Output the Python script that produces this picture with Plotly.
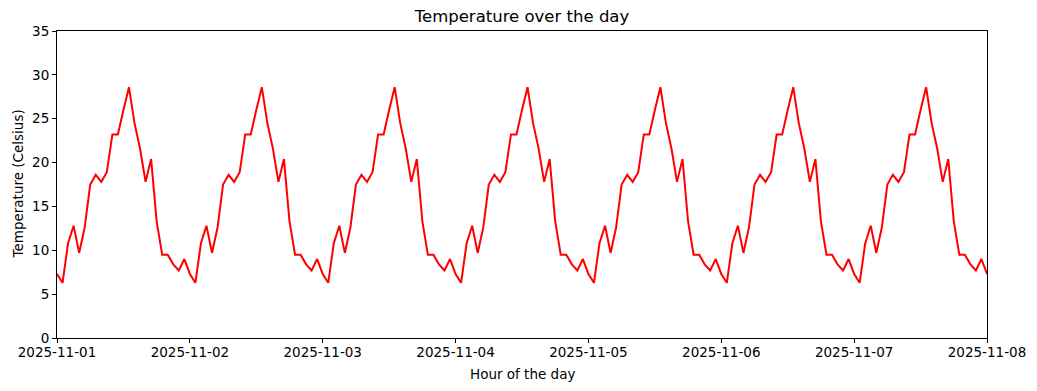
import plotly.graph_objects as go
import pandas as pd

# Hourly temperature profile (same pattern every day)
hourly_profile = [7.3, 6.3, 10.8, 12.8, 9.7, 12.6, 17.5, 18.6, 17.8, 18.9, 23.2, 23.2,
                  26.0, 28.6, 24.5, 21.6, 17.8, 20.4, 13.3, 9.5, 9.5, 8.4, 7.7, 9.0]
n_days = 7
start_date = "2025-11-01"
end_date = "2025-11-08"
tick_labels = ["2025-11-01", "2025-11-02", "2025-11-03", "2025-11-04",
               "2025-11-05", "2025-11-06", "2025-11-07", "2025-11-08"]

temps = hourly_profile * n_days + [hourly_profile[0]]
times = pd.date_range(start_date, periods=len(temps), freq="h")

fig = go.Figure()
fig.add_trace(go.Scatter(x=times, y=temps, mode="lines",
                         line=dict(color="#ff0000", width=2), showlegend=False))

W, H = 1037, 391
ml, mr, mt, mb = 57, 50, 31, 53
font = "DejaVu Sans"
fig.update_layout(
    width=W, height=H,
    margin=dict(l=ml, r=mr, t=mt, b=mb, pad=0),
    plot_bgcolor="white", paper_bgcolor="white",
    font=dict(family=font, size=13.5, color="black"),
    title=dict(text="Temperature over the day", x=(ml + (W - ml - mr) / 2) / W,
               xanchor="center", y=1 - 16 / H, yanchor="middle", yref="container",
               font=dict(size=16.5, family=font)),
)
fig.update_xaxes(
    range=[start_date, end_date], tickvals=tick_labels, ticktext=tick_labels,
    showline=True, linecolor="black", linewidth=1, mirror=True,
    ticks="outside", ticklen=4, tickcolor="black", showgrid=False, zeroline=False,
    ticklabelstandoff=-2,
)
fig.update_yaxes(
    range=[0, 35], dtick=5, tick0=0,
    showline=True, linecolor="black", linewidth=1, mirror=True,
    ticks="outside", ticklen=4, tickcolor="black", showgrid=False, zeroline=False,
)
fig.add_annotation(text="Hour of the day", xref="paper", yref="paper", x=0.5,
                   y=-(374 - (H - mb)) / (H - mt - mb), showarrow=False,
                   yanchor="middle", font=dict(size=13.5))
fig.add_annotation(text="Temperature (Celsius)", xref="paper", yref="paper",
                   x=-(ml - 17) / (W - ml - mr), y=0.5, showarrow=False, textangle=-90,
                   xanchor="center", font=dict(size=13.5))

fig.write_html("out.html", config={"displayModeBar": False},
               post_script="document.body.style.margin='0';document.body.style.overflow='hidden';")
